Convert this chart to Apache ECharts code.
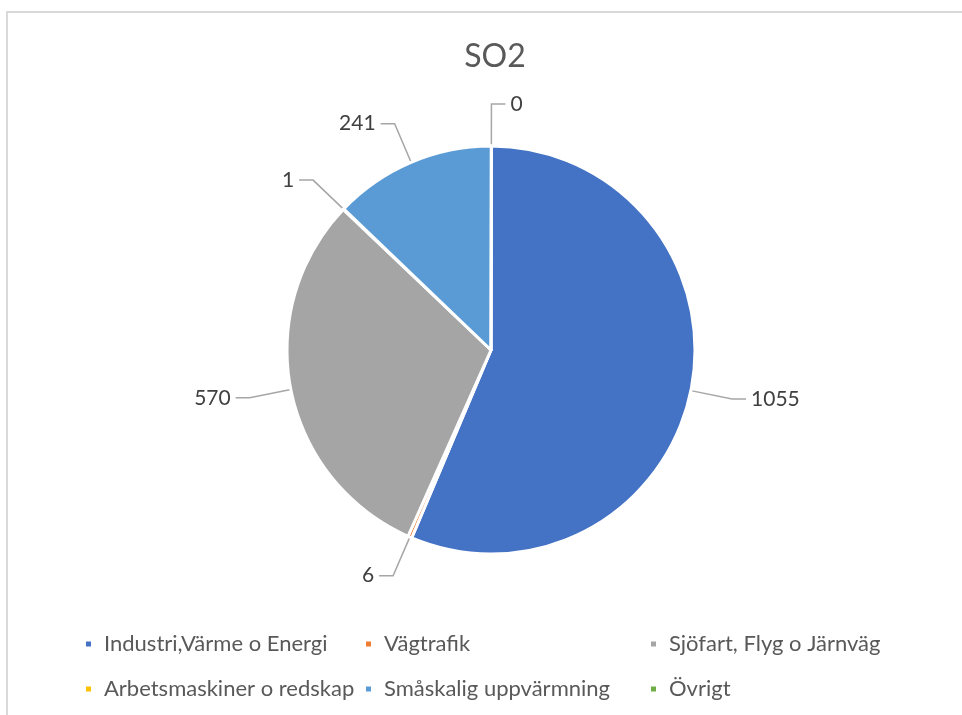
<!DOCTYPE html>
<html>
<head>
<meta charset="utf-8">
<style>
  html, body { margin: 0; padding: 0; background: #fff; }
  #chart { width: 962px; height: 715px; }
</style>
<script src="https://cdn.jsdelivr.net/npm/echarts@6/dist/echarts.min.js"></script>
</head>
<body>
<div id="chart"></div>
<script>
// data
const categories = [
    'Industri,Värme o Energi',
    'Vägtrafik',
    'Sjöfart, Flyg o Järnväg',
    'Arbetsmaskiner o redskap',
    'Småskalig uppvärmning',
    'Övrigt'
];
const values = [1055, 6, 570, 1, 241, 0];
const colors = ['#4472C4', '#ED7D31', '#A5A5A5', '#FFC000', '#5B9BD5', '#70AD47'];

const FONT = 'Lato, "Noto Sans", sans-serif';

// legend is laid out like excel: 3 columns, 2 rows
const legendCols = [79, 359, 644];
const legendRows = [639, 684];

const chart = echarts.init(document.getElementById('chart'));

const legends = categories.map((name, i) => ({
    data: [name],
    left: legendCols[i % 3],
    top: legendRows[Math.floor(i / 3)] - 12,
    icon: 'rect',
    itemWidth: 7,
    itemHeight: 7,
    selectedMode: false,
    textStyle: {
        fontFamily: FONT,
        fontSize: 22,
        color: '#595959',
        lineHeight: 24,
        padding: [0, 0, 0, 7]
    }
}));

const option = {
    animation: false,
    backgroundColor: '#fff',
    color: colors,
    title: {
        text: 'SO2',
        left: 490,
        textAlign: 'center',
        top: 36,
        textStyle: {
            fontFamily: FONT,
            fontSize: 32,
            fontWeight: 'normal',
            color: '#595959'
        }
    },
    graphic: [{
        type: 'rect',
        shape: { x: 7, y: 12, width: 1200, height: 1200 },
        style: { fill: 'none', stroke: '#D9D9D9', lineWidth: 2 },
        silent: true
    }],
    legend: legends,
    series: [{
        type: 'pie',
        center: [491, 350],
        radius: 204,
        // tiny offset so the zero slice label lands on the right like excel
        startAngle: 89.9,
        clockwise: true,
        data: categories.map((name, i) => ({ name: name, value: values[i] })),
        itemStyle: {
            borderColor: '#fff',
            borderWidth: 3
        },
        label: {
            show: true,
            position: 'outside',
            formatter: '{c}',
            fontFamily: FONT,
            fontSize: 21,
            color: '#404040'
        },
        labelLine: {
            show: true,
            length: 42,
            length2: 14,
            lineStyle: { color: '#A6A6A6', width: 1.5 }
        },
        emphasis: { disabled: true }
    }]
};

chart.setOption(option);
</script>
</body>
</html>
